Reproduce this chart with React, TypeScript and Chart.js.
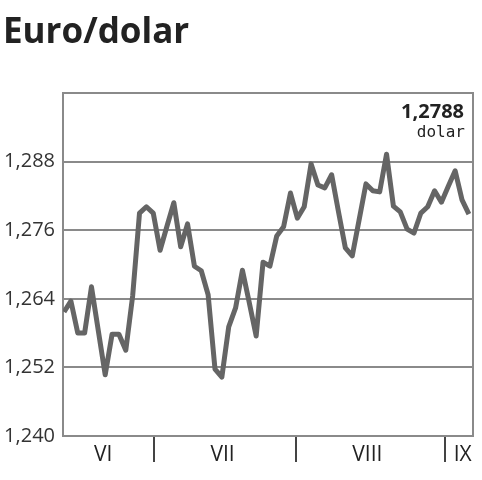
import React, { useEffect, useRef } from 'react';
import { Chart, registerables } from 'chart.js';

Chart.register(...registerables);

const chartTitle = 'Euro/dolar';
const unitLabel = 'dolar';

// daily EUR/USD closes (mid June – early September)
const values = [
  1.2617, 1.2636, 1.258, 1.258, 1.2661, 1.2584, 1.2507, 1.2578, 1.2578, 1.255,
  1.2645, 1.279, 1.2801, 1.279, 1.2725, 1.2767, 1.2808, 1.2731, 1.2771, 1.2697,
  1.2689, 1.2647, 1.2517, 1.2503, 1.2591, 1.2624, 1.269, 1.2633, 1.2575, 1.2704,
  1.2697, 1.275, 1.2766, 1.2825, 1.2781, 1.2801, 1.2876, 1.2839, 1.2834, 1.2857,
  1.2792, 1.2729, 1.2715, 1.2778, 1.2841, 1.2829, 1.2827, 1.2893, 1.2802, 1.2792,
  1.2762, 1.2755, 1.279, 1.2801, 1.2829, 1.2809, 1.2837, 1.2864, 1.2813, 1.2788,
];

const yMin = 1.24;
const yMax = 1.3;
const yStep = 0.012;

const monthNames = ['VI', 'VII', 'VIII', 'IX'];
const monthCenters = [5.7, 23.1, 44.2, 58.1];
const monthBoundaries = [13.1, 33.8, 55.5];

const xMin = -0.15;
const xMax = 59.6;

const FONT = '"Open Sans", "Noto Sans", sans-serif';
const MONO = '"DejaVu Sans Mono", "Liberation Mono", monospace';

const fmt = (v: number, d: number) => v.toFixed(d).replace('.', ',');

const framePlugin = {
  id: 'frameAndText',
  beforeDatasetsDraw(chart: any) {
    const { ctx, chartArea: a } = chart;
    ctx.save();
    ctx.strokeStyle = '#8a8a8a';
    ctx.lineWidth = 2;
    ctx.strokeRect(a.left, a.top, a.right - a.left, a.bottom - a.top);
    ctx.restore();
  },
  afterDraw(chart: any) {
    const { ctx, chartArea: a } = chart;
    ctx.save();
    ctx.fillStyle = '#222';
    ctx.textBaseline = 'alphabetic';
    ctx.textAlign = 'left';
    ctx.font = `bold 35px ${FONT}`;
    ctx.fillText(chartTitle, 3, 43);
    ctx.textAlign = 'right';
    ctx.font = `bold 20px ${FONT}`;
    ctx.fillText(fmt(values[values.length - 1], 4), a.right - 9, a.top + 25);
    ctx.font = `16px ${MONO}`;
    ctx.fillText(unitLabel, a.right - 8, a.top + 44);
    ctx.restore();
  },
};

const isBoundary = (v: number) => monthBoundaries.some((b) => Math.abs(b - v) < 1e-6);

export default function App() {
  const ref = useRef<HTMLCanvasElement | null>(null);

  useEffect(() => {
    if (!ref.current) return;
    const chart = new Chart(ref.current, {
      type: 'line',
      data: {
        datasets: [
          {
            data: values.map((v, i) => ({ x: i, y: v })),
            borderColor: '#656565',
            borderWidth: 5,
            borderJoinStyle: 'round',
            pointRadius: 0,
            tension: 0,
            fill: false,
          },
        ],
      },
      options: {
        animation: false,
        responsive: false,
        events: [],
        layout: { padding: { top: 93, right: 9, bottom: 0, left: 0 } },
        plugins: {
          legend: { display: false },
          title: { display: false },
          tooltip: { enabled: false },
        },
        scales: {
          x: {
            type: 'linear',
            min: xMin,
            max: xMax,
            border: { display: false },
            afterFit: (s: any) => {
              s.height = 44;
            },
            afterBuildTicks: (s: any) => {
              const all = [...monthCenters, ...monthBoundaries].sort((p, q) => p - q);
              s.ticks = all.map((v) => ({ value: v }));
            },
            grid: {
              drawOnChartArea: false,
              drawTicks: true,
              tickLength: 26,
              lineWidth: 2,
              color: (c: any) => (c.tick && isBoundary(c.tick.value) ? '#444' : 'rgba(0,0,0,0)'),
            },
            ticks: {
              autoSkip: false,
              maxRotation: 0,
              minRotation: 0,
              padding: -20,
              color: '#222',
              font: { family: FONT, size: 21 },
              callback: (v: any) => {
                const idx = monthCenters.findIndex((c) => Math.abs(c - v) < 1e-6);
                return idx >= 0 ? monthNames[idx] : '';
              },
            },
          },
          y: {
            type: 'linear',
            min: yMin,
            max: yMax,
            border: { display: false },
            afterFit: (s: any) => {
              s.width = 63;
            },
            grid: {
              color: '#8a8a8a',
              lineWidth: 2,
              drawTicks: false,
            },
            ticks: {
              stepSize: yStep,
              padding: 8,
              color: '#333',
              font: { family: FONT, size: 20 },
              callback: (v: any) => (v > yMax - 1e-6 ? '' : fmt(Number(v), 3)),
            },
          },
        },
      },
      plugins: [framePlugin],
    });
    return () => chart.destroy();
  }, []);

  return (
    <div style={{ position: 'absolute', left: 0, top: 0, width: 482, height: 480, background: '#fff' }}>
      <canvas ref={ref} width={482} height={480} style={{ display: 'block' }} />
    </div>
  );
}
